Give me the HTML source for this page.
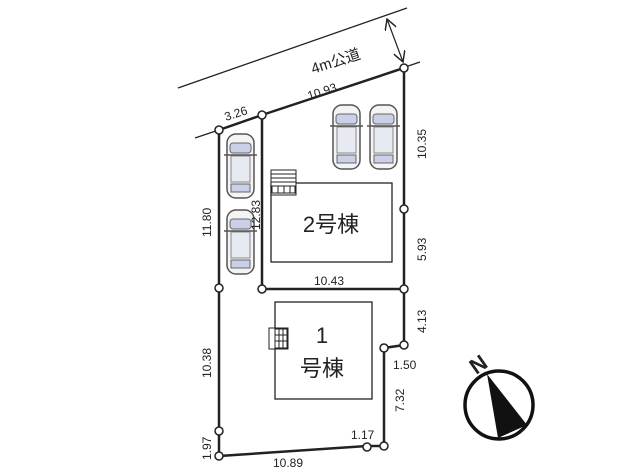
<!DOCTYPE html><html><head><meta charset="utf-8"><style>body{margin:0;background:#fff}svg text{font-family:"Liberation Sans","Noto Sans CJK JP",sans-serif;fill:#222}</style></head><body>
<svg width="620" height="471" viewBox="0 0 620 471" xmlns="http://www.w3.org/2000/svg">
<defs>
<g id="car"><rect x="0" y="0" width="27" height="64" rx="9" fill="#f4f4f6" stroke="#555" stroke-width="1.5"/><rect x="3" y="9" width="21" height="10" rx="3" fill="#c9d0e8" stroke="#666"/><rect x="4" y="22" width="19" height="26" fill="#e8eaf2" stroke="#888"/><rect x="4" y="50" width="19" height="8" fill="#c9d0e8" stroke="#666"/><line x1="-3" y1="21" x2="30" y2="21" stroke="#555" stroke-width="1.5"/></g>
<marker id="ah" markerWidth="10" markerHeight="10" refX="9" refY="5" orient="auto-start-reverse"><path d="M0,0 L9,5 L0,10" fill="none" stroke="#222" stroke-width="1.2"/></marker>
</defs>
<line x1="178" y1="88" x2="407" y2="8" stroke="#222" stroke-width="1.3"/>
<line x1="195" y1="138" x2="420" y2="62" stroke="#222" stroke-width="1.3"/>
<line x1="387" y1="19" x2="403" y2="62" stroke="#222" stroke-width="1.2" marker-start="url(#ah)" marker-end="url(#ah)"/>
<text x="313" y="74" font-size="15" transform="rotate(-18 313 74)">4m公道</text>
<g stroke="#222" stroke-width="2.5" fill="none">
<polyline points="219,130 262,115 404,68 404,345 384,348 384,446 367,446 219,456 219,130"/>
<polyline points="262,115 262,289 404,289"/>
</g>
<g fill="#fff" stroke="#222" stroke-width="1.5">
<circle cx="219" cy="130" r="4"/><circle cx="262" cy="115" r="4"/><circle cx="404" cy="68" r="4"/><circle cx="404" cy="209" r="4"/><circle cx="404" cy="289" r="4"/><circle cx="262" cy="289" r="4"/><circle cx="219" cy="288" r="4"/><circle cx="404" cy="345" r="4"/><circle cx="384" cy="348" r="4"/><circle cx="384" cy="446" r="4"/><circle cx="367" cy="447" r="4"/><circle cx="219" cy="456" r="4"/><circle cx="219" cy="431" r="4"/>
</g>
<use href="#car" x="227" y="134"/><use href="#car" x="227" y="210"/><use href="#car" x="333" y="105"/><use href="#car" x="370" y="105"/>
<rect x="271" y="183" width="121" height="79" fill="#fff" stroke="#222" stroke-width="1.3"/>
<g stroke="#222" stroke-width="1"><rect x="271" y="170" width="25" height="25" fill="#fff"/><line x1="271" y1="174" x2="296" y2="174"/><line x1="271" y1="178" x2="296" y2="178"/><line x1="271" y1="182" x2="296" y2="182"/><rect x="272" y="186" width="23" height="7" fill="#fff"/><line x1="278" y1="186" x2="278" y2="193"/><line x1="284" y1="186" x2="284" y2="193"/><line x1="290" y1="186" x2="290" y2="193"/></g>
<text x="331" y="232" font-size="22" text-anchor="middle">2号棟</text>
<rect x="275" y="302" width="97" height="97" fill="#fff" stroke="#222" stroke-width="1.3"/>
<g stroke="#222" stroke-width="1" fill="#fff"><rect x="269" y="328" width="19" height="21"/><rect x="275" y="329" width="12" height="19"/><line x1="275" y1="335" x2="287" y2="335"/><line x1="275" y1="341" x2="287" y2="341"/><line x1="279" y1="329" x2="279" y2="348"/><line x1="283" y1="329" x2="283" y2="348"/></g>
<text x="322" y="343" font-size="22" text-anchor="middle">1</text>
<text x="322" y="376" font-size="22" text-anchor="middle">号棟</text>
<g font-size="12">
<text x="226" y="121" transform="rotate(-18 226 121)">3.26</text>
<text x="309" y="100" transform="rotate(-18 309 100)">10.93</text>
<text x="426" y="159" transform="rotate(-90 426 159)">10.35</text>
<text x="426" y="261" transform="rotate(-90 426 261)">5.93</text>
<text x="426" y="333" transform="rotate(-90 426 333)">4.13</text>
<text x="211" y="237" transform="rotate(-90 211 237)">11.80</text>
<text x="260" y="230" transform="rotate(-90 260 230)">12.83</text>
<text x="314" y="285">10.43</text>
<text x="211" y="378" transform="rotate(-90 211 378)">10.38</text>
<text x="211" y="460" transform="rotate(-90 211 460)">1.97</text>
<text x="393" y="369">1.50</text>
<text x="404" y="412" transform="rotate(-90 404 412)">7.32</text>
<text x="351" y="439">1.17</text>
<text x="273" y="467">10.89</text>
</g>
<circle cx="499" cy="405" r="34" fill="#fff" stroke="#111" stroke-width="3.5"/>
<polygon points="487,374 498,438 527,425" fill="#111"/>
<text x="0" y="8" font-size="22" font-weight="bold" text-anchor="middle" transform="translate(478,364) rotate(-35)">N</text>
</svg></body></html>
